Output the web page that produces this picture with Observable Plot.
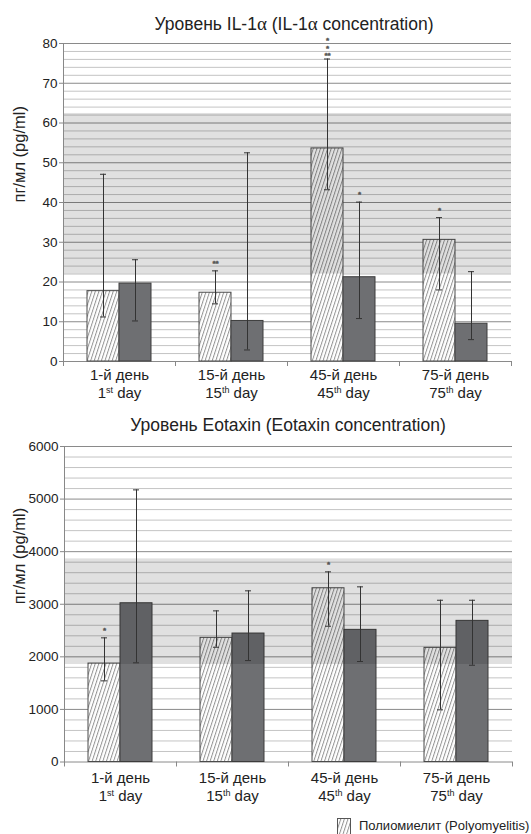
<!DOCTYPE html>
<html><head><meta charset="utf-8">
<script src="https://cdn.jsdelivr.net/npm/d3@7"></script>
<script src="https://cdn.jsdelivr.net/npm/@observablehq/plot@0.6"></script>
<style>
html,body{margin:0;padding:0;background:#fff;}
body{width:531px;height:834px;overflow:hidden;position:relative;font-family:"Liberation Sans",Arial,sans-serif;color:#222;}
.title{position:absolute;white-space:nowrap;font-size:17.5px;line-height:20px;transform:translateX(-50%);}
.title .g{font-family:"Liberation Serif","Times New Roman",serif;font-size:19px;}
.chart{position:absolute;left:0;}
.legend{position:absolute;left:337px;top:818px;display:flex;align-items:flex-start;font-size:13px;line-height:16px;white-space:nowrap;}
.legend svg{margin-right:8px;}
</style>
</head><body>
<svg width="0" height="0" style="position:absolute">
  <defs>
    <pattern id="hatch" patternUnits="userSpaceOnUse" width="3.4" height="10" patternTransform="rotate(18)">
      <rect width="3.4" height="10" fill="#fff"/>
      <line x1="0.5" y1="0" x2="0.5" y2="10" stroke="#949494" stroke-width="1"/>
    </pattern>
  </defs>
</svg>
<div class="title" style="left:294px;top:14px">Уровень IL-1<span class="g">α</span> (IL-1<span class="g">α</span> concentration)</div>
<div class="chart" id="c1" style="top:0"></div>
<div class="title" style="left:288px;top:415px">Уровень Eotaxin (Eotaxin concentration)</div>
<div class="chart" id="c2" style="top:405px"></div>
<div class="legend"><svg width="14" height="18"><rect x="0.5" y="0.5" width="13" height="17" fill="url(#hatch)" stroke="#555"/></svg><span>Полиомиелит (Polyomyelitis)</span></div>
<script>
// ---- data ----
const days = ["1-й день", "15-й день", "45-й день", "75-й день"];
const dayNum = ["1", "15", "45", "75"];
const daySup = ["st", "th", "th", "th"];
const yLabel = "пг/мл (pg/ml)";

// IL-1α
const ilPolio   = [17.7, 17.3, 53.6, 30.6];
const ilPolioLo = [11.2, 14.5, 43.2, 18.0];
const ilPolioHi = [47.1, 22.8, 76.1, 36.2];
const ilCtrl    = [19.6, 10.2, 21.2, 9.5];
const ilCtrlLo  = [10.2, 2.9, 10.8, 5.5];
const ilCtrlHi  = [25.6, 52.5, 40.1, 22.6];
const ilNorm    = [22, 62.4];
const ilStars = [
  {day: "15-й день", series: "polio", text: "**", level: 0},
  {day: "45-й день", series: "polio", text: "**", level: 0},
  {day: "45-й день", series: "polio", text: "*", level: 1},
  {day: "45-й день", series: "polio", text: "*", level: 2},
  {day: "45-й день", series: "ctrl", text: "*", level: 0},
  {day: "75-й день", series: "polio", text: "*", level: 0}
];

// Eotaxin
const eoPolio   = [1872, 2361, 3304, 2171];
const eoPolioLo = [1543, 2182, 2582, 992];
const eoPolioHi = [2361, 2874, 3616, 3076];
const eoCtrl    = [3019, 2443, 2513, 2684];
const eoCtrlLo  = [1886, 1929, 1911, 1840];
const eoCtrlHi  = [5175, 3255, 3331, 3076];
const eoNorm    = [1854, 3863];
const eoStars = [
  {day: "1-й день", series: "polio", text: "*", level: 0},
  {day: "45-й день", series: "polio", text: "*", level: 0}
];

const W = 531;

function makeChart(cfg) {
  const {polio, polioLo, polioHi, ctrl, ctrlLo, ctrlHi, norm, yMax, minorStep, majorStep, stars,
         height, marginTop, marginBottom, marginLeft, marginRight, tickPadding} = cfg;
  const bw = (W - marginLeft - marginRight) / days.length;
  const barW = 32, capW = 6;
  const rows = days.map((d, i) => ({day: d, polio: polio[i], pLo: polioLo[i], pHi: polioHi[i],
                                    ctrl: ctrl[i], cLo: ctrlLo[i], cHi: ctrlHi[i]}));
  const grid = d3.range(0, yMax + minorStep / 2, minorStep);
  const isMajor = v => Math.abs(v / majorStep - Math.round(v / majorStep)) < 1e-9;
  const major = grid.filter(isMajor);
  const minor = grid.filter(v => !isMajor(v));
  const ec = "#333";
  const pCapL = bw / 2 - barW / 2 - capW / 2, pCapR = bw / 2 + barW / 2 - capW / 2;
  const cCapL = bw / 2 + barW / 2 - capW / 2, cCapR = bw / 2 - barW / 2 - capW / 2;

  const starMarks = stars.map(s => {
    const r = rows.find(r => r.day === s.day);
    const stacked = stars.filter(t => t.day === s.day && t.series === s.series).length > 1;
    const off = (stacked ? 3.5 : 7.5) + s.level * 7.5;
    return Plot.text([s], {
      x: "day", y: () => s.series === "polio" ? r.pHi : r.cHi, text: "text",
      dx: s.series === "polio" ? -barW / 2 : barW / 2, dy: -off,
      fontSize: 8, fill: "#555", fontWeight: "bold", stroke: "#555", strokeWidth: 0.4
    });
  });

  return Plot.plot({
    width: W, height, marginTop, marginBottom, marginLeft, marginRight,
    style: {fontFamily: "Liberation Sans, Arial, sans-serif", color: "#222", background: "transparent", overflow: "visible"},
    x: {domain: days, padding: 0},
    y: {domain: [0, yMax]},
    marks: [
      Plot.ruleY(minor, {stroke: "#c4c4c4", strokeWidth: 1}),
      Plot.ruleY(major, {stroke: "#8a8a8a", strokeWidth: 1}),
      Plot.barY(rows, {x: "day", y: "polio", fill: "url(#hatch)", stroke: "#4a4a4a", strokeWidth: 1,
                       insetLeft: bw / 2 - barW, insetRight: bw / 2}),
      Plot.barY(rows, {x: "day", y: "ctrl", fill: "#6e6f72", stroke: "#3c3c3c", strokeWidth: 1,
                       insetLeft: bw / 2, insetRight: bw / 2 - barW}),
      Plot.rect([norm], {y1: d => d[0], y2: d => d[1], fill: "#000", fillOpacity: 0.12}),
      Plot.ruleX(rows, {x: "day", y1: "pLo", y2: "pHi", dx: -barW / 2, stroke: ec}),
      Plot.tickY(rows, {x: "day", y: "pHi", stroke: ec, insetLeft: pCapL, insetRight: pCapR}),
      Plot.tickY(rows, {x: "day", y: "pLo", stroke: ec, insetLeft: pCapL, insetRight: pCapR}),
      Plot.ruleX(rows, {x: "day", y1: "cLo", y2: "cHi", dx: barW / 2, stroke: ec}),
      Plot.tickY(rows, {x: "day", y: "cHi", stroke: ec, insetLeft: cCapL, insetRight: cCapR}),
      Plot.tickY(rows, {x: "day", y: "cLo", stroke: ec, insetLeft: cCapL, insetRight: cCapR}),
      ...starMarks,
      Plot.frame({anchor: "left", stroke: "#888"}),
      Plot.axisY({ticks: major, tickSize: 4, tickPadding: 2, fontSize: 13.5, stroke: "#888", fill: "#222", label: null,
                  tickFormat: d3.format("d")}),
      Plot.axisX({tickSize: 5, fill: "none", dx: -bw / 2, stroke: "#888", label: null}),
      Plot.axisX({ticks: [days[days.length - 1]], tickSize: 5, fill: "none", dx: bw / 2, stroke: "#888", label: null}),
      Plot.axisX({tickSize: 0, tickPadding, fontSize: 15, lineHeight: 1.2, fill: "#222", label: null,
                  tickFormat: d => { const i = days.indexOf(d); return d + "\n" + dayNum[i] + daySup[i] + " day"; }}),
      Plot.text([yLabel], {frameAnchor: "left", rotate: -90, dx: 19 - marginLeft, fontSize: 16.5, fill: "#222"})
    ]
  });
}

function superscripts(svg) {
  d3.select(svg).selectAll("tspan").each(function () {
    const t = this.textContent;
    const m = /^(\d+)(st|th)( day)$/.exec(t);
    if (!m) return;
    const sel = d3.select(this);
    sel.text(m[1]);
    sel.append("tspan").attr("font-size", 9).attr("dy", -5).text(m[2]);
    sel.append("tspan").attr("dy", 5).text(m[3]);
  });
}

const c1 = makeChart({polio: ilPolio, polioLo: ilPolioLo, polioHi: ilPolioHi, ctrl: ilCtrl, ctrlLo: ilCtrlLo, ctrlHi: ilCtrlHi,
  norm: ilNorm, yMax: 80, minorStep: 2, majorStep: 10, stars: ilStars,
  height: 405, marginTop: 43, marginBottom: 44, marginLeft: 63, marginRight: 20, tickPadding: 6});
superscripts(c1);
document.getElementById("c1").appendChild(c1);

const c2 = makeChart({polio: eoPolio, polioLo: eoPolioLo, polioHi: eoPolioHi, ctrl: eoCtrl, ctrlLo: eoCtrlLo, ctrlHi: eoCtrlHi,
  norm: eoNorm, yMax: 6000, minorStep: 200, majorStep: 1000, stars: eoStars,
  height: 405, marginTop: 41, marginBottom: 48.5, marginLeft: 64, marginRight: 19, tickPadding: 8});
superscripts(c2);
document.getElementById("c2").appendChild(c2);
</script>
</body></html>
